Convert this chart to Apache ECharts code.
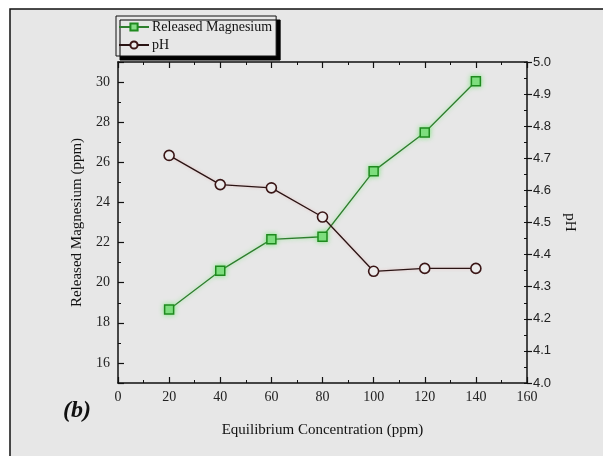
<!DOCTYPE html>
<html>
<head>
<meta charset="utf-8">
<script src="https://cdn.jsdelivr.net/npm/echarts@6/dist/echarts.min.js"></script>
<style>html,body{margin:0;padding:0;background:#fff;}#c{width:603px;height:456px;}</style>
</head>
<body>
<div id="c"></div>
<script>
var concentration = [20, 40, 60, 80, 100, 120, 140];
var magnesium = [18.66, 20.6, 22.16, 22.29, 25.56, 27.49, 30.04];
var pH = [4.709, 4.618, 4.608, 4.517, 4.348, 4.357, 4.357];
var seriesNames = ['Released Magnesium', 'pH'];
var xName = 'Equilibrium Concentration (ppm)';
var yLeftName = 'Released Magnesium (ppm)';
var yRightName = 'pH';
var panelLabel = '(b)';

var serif = 'Liberation Serif';
var chart = echarts.init(document.getElementById('c'), null, {renderer: 'canvas'});
var bg = '#e7e7e7';
function pairs(xs, ys) { return xs.map(function (x, i) { return [x, ys[i]]; }); }

var xBase = {
  type: 'value', min: 0, max: 160, interval: 20,
  axisLine: {show: true, lineStyle: {color: '#111', width: 1.5}},
  axisTick: {show: true, inside: true, length: 6, lineStyle: {color: '#111', width: 1.2}},
  minorTick: {show: true, splitNumber: 2, length: 3, lineStyle: {color: '#111', width: 1}},
  splitLine: {show: false}
};

var option = {
  backgroundColor: '#fff',
  animation: false,
  graphic: [
    {type: 'rect', z: -10, shape: {x: 10, y: 9, width: 600, height: 452}, style: {fill: bg, stroke: '#111', lineWidth: 1.5}},
    {type: 'text', left: 63, top: 399, style: {text: panelLabel, font: 'italic bold 24px "Liberation Serif"', fill: '#111'}}
  ],
  grid: {left: 118, right: 76, top: 62, bottom: 73, show: false},
  legend: {
    orient: 'vertical', left: 116, top: 16,
    data: seriesNames,
    itemWidth: 30, itemHeight: 9, itemGap: 4,
    padding: [4, 4, 4, 2],
    backgroundColor: bg, borderColor: '#111', borderWidth: 1,
    shadowColor: '#000', shadowBlur: 0, shadowOffsetX: 4, shadowOffsetY: 4,
    textStyle: {fontFamily: serif, fontSize: 14, color: '#111', padding: [0, 0, 0, -2]}
  },
  xAxis: [
    Object.assign({}, xBase, {
      position: 'bottom',
      axisLabel: {show: true, fontFamily: serif, fontSize: 14, color: '#222', margin: 7},
      name: xName, nameLocation: 'middle', nameGap: 40,
      nameTextStyle: {fontFamily: serif, fontSize: 15, color: '#111'}
    }),
    Object.assign({}, xBase, {position: 'top', axisLabel: {show: false}})
  ],
  yAxis: [
    {
      type: 'value', position: 'left', min: 15, max: 31, interval: 1,
      axisLine: {show: true, lineStyle: {color: '#111', width: 1.5}},
      axisTick: {show: true, inside: true, length: 3, lineStyle: {color: '#111', width: 1}},
      axisLabel: {show: false}, splitLine: {show: false}
    },
    {
      type: 'value', position: 'left', min: 15, max: 31, splitNumber: 8,
      axisLine: {show: false},
      axisTick: {show: true, inside: true, length: 6, lineStyle: {color: '#111', width: 1.2}},
      axisLabel: {show: true, fontFamily: serif, fontSize: 14, color: '#222', margin: 8,
        formatter: function (v) { return (Math.round(v) % 2 === 0) ? String(v) : ''; }},
      splitLine: {show: false},
      name: yLeftName, nameLocation: 'middle', nameGap: 33, nameRotate: 90,
      nameTextStyle: {fontFamily: serif, fontSize: 15, color: '#111'}
    },
    {
      type: 'value', position: 'right', min: 4, max: 5, interval: 0.1,
      axisLine: {show: true, lineStyle: {color: '#111', width: 1.5}},
      axisTick: {show: true, inside: false, length: 5, lineStyle: {color: '#111', width: 1.2}},
      axisLabel: {show: true, fontFamily: 'Liberation Sans', fontSize: 13, color: '#222', margin: 6,
        formatter: function (v) { return v.toFixed(1); }},
      splitLine: {show: false},
      name: yRightName, nameLocation: 'middle', nameGap: 33, nameRotate: -90,
      nameTextStyle: {fontFamily: serif, fontSize: 15, color: '#111'}
    },
    {
      type: 'value', position: 'right', min: 4, max: 5, interval: 0.05,
      axisLine: {show: false},
      axisTick: {show: true, inside: true, length: 3, lineStyle: {color: '#111', width: 1}},
      axisLabel: {show: false}, splitLine: {show: false}
    }
  ],
  series: [
    {
      name: seriesNames[0], type: 'line', xAxisIndex: 0, yAxisIndex: 0,
      data: pairs(concentration, magnesium),
      symbol: 'rect', symbolSize: 9,
      lineStyle: {color: '#2f7f2f', width: 1.3, shadowColor: 'rgba(80,230,80,0.6)', shadowBlur: 4},
      itemStyle: {color: '#86dd86', borderColor: '#1f8a1f', borderWidth: 1.5, shadowColor: 'rgba(80,230,80,0.6)', shadowBlur: 5},
      z: 3
    },
    {
      name: seriesNames[1], type: 'line', xAxisIndex: 0, yAxisIndex: 2,
      data: pairs(concentration, pH),
      symbol: 'circle', symbolSize: 10,
      lineStyle: {color: '#2a1414', width: 1.3, shadowColor: 'rgba(230,150,150,0.5)', shadowBlur: 3},
      itemStyle: {color: '#ececec', borderColor: '#3a1616', borderWidth: 1.6},
      z: 4
    }
  ]
};
chart.setOption(option);
</script>
</body>
</html>
